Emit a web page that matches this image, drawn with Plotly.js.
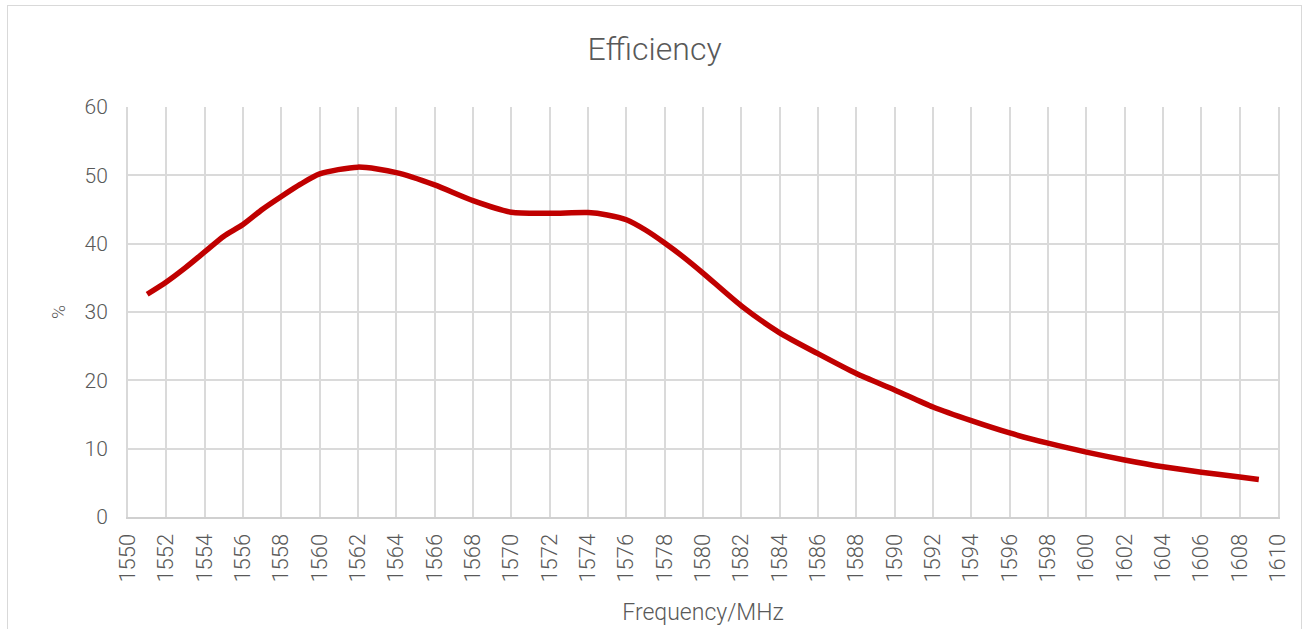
<!DOCTYPE html>
<html>
<head>
<meta charset="utf-8">
<script src="https://cdn.plot.ly/plotly-3.0.1.min.js"></script>
<style>
html,body{margin:0;padding:0;background:#fff;overflow:hidden;}
#frame{position:absolute;left:7px;top:5px;width:1295px;height:640px;border:1px solid #d9d9d9;box-sizing:border-box;}
#chart{position:absolute;left:0;top:0;width:1309px;height:629px;}
</style>
</head>
<body>
<div id="frame"></div>
<div id="chart"></div>
<script>
// Frequency (MHz) and efficiency (%)
const frequency = [1551, 1552, 1553, 1554, 1555, 1556, 1557, 1558, 1559, 1560, 1562, 1564, 1566, 1568, 1570, 1572, 1574, 1575, 1576, 1577, 1578, 1579, 1580, 1582, 1584, 1586, 1588, 1590, 1592, 1594, 1596, 1598, 1600, 1602, 1604, 1606, 1608, 1609];
const efficiency = [32.6, 34.4, 36.5, 38.8, 41.1, 42.8, 45.0, 46.9, 48.7, 50.2, 51.2, 50.4, 48.6, 46.3, 44.6, 44.45, 44.55, 44.2, 43.5, 42.0, 40.1, 38.0, 35.7, 30.9, 26.95, 23.9, 21.0, 18.6, 16.1, 14.1, 12.3, 10.8, 9.5, 8.35, 7.35, 6.55, 5.85, 5.5];
const xTicks = [1550,1552,1554,1556,1558,1560,1562,1564,1566,1568,1570,1572,1574,1576,1578,1580,1582,1584,1586,1588,1590,1592,1594,1596,1598,1600,1602,1604,1606,1608,1610];
const yTicks = [0,10,20,30,40,50,60];

const FONT = 'Roboto, "Open Sans", sans-serif';
const GREY = '#595959';

Plotly.newPlot('chart', [{
  x: frequency,
  y: efficiency,
  type: 'scatter',
  mode: 'lines',
  line: {color: '#c00000', width: 5.5, shape: 'spline', smoothing: 0.7},
  hoverinfo: 'x+y'
}], {
  width: 1309, height: 629,
  paper_bgcolor: 'rgba(0,0,0,0)', plot_bgcolor: '#fff',
  margin: {l: 128, r: 31, t: 107, b: 112, pad: 0},
  showlegend: false,
  title: {text: 'Efficiency', font: {family: FONT, size: 32, color: GREY, weight: 300}, x: 0.5, xanchor: 'center', y: 0.922, yanchor: 'middle'},
  xaxis: {
    range: [1550, 1610], tickmode: 'array', tickvals: xTicks, ticktext: xTicks.map(String),
    tickangle: -90, ticks: '', ticklabelstandoff: 6,
    tickfont: {family: FONT, size: 22, color: GREY, weight: 300},
    showgrid: true, gridcolor: '#dadada', gridwidth: 2,
    showline: true, linecolor: '#d0d0d0', linewidth: 2, zeroline: false,
    title: {text: 'Frequency/MHz', font: {family: FONT, size: 23, color: GREY, weight: 300}, standoff: 22},
    fixedrange: true
  },
  yaxis: {
    range: [0, 60], tickmode: 'array', tickvals: yTicks, ticktext: yTicks.map(String),
    ticks: '', ticklabelstandoff: 14,
    tickfont: {family: FONT, size: 21, color: GREY, weight: 300},
    showgrid: true, gridcolor: '#dadada', gridwidth: 2,
    showline: true, linecolor: '#d9d9d9', linewidth: 2, mirror: true, zeroline: false,
    title: {text: '%', font: {family: FONT, size: 19, color: GREY, weight: 300}, standoff: 14},
    fixedrange: true
  }
}, {displayModeBar: false, staticPlot: true});
</script>
</body>
</html>
